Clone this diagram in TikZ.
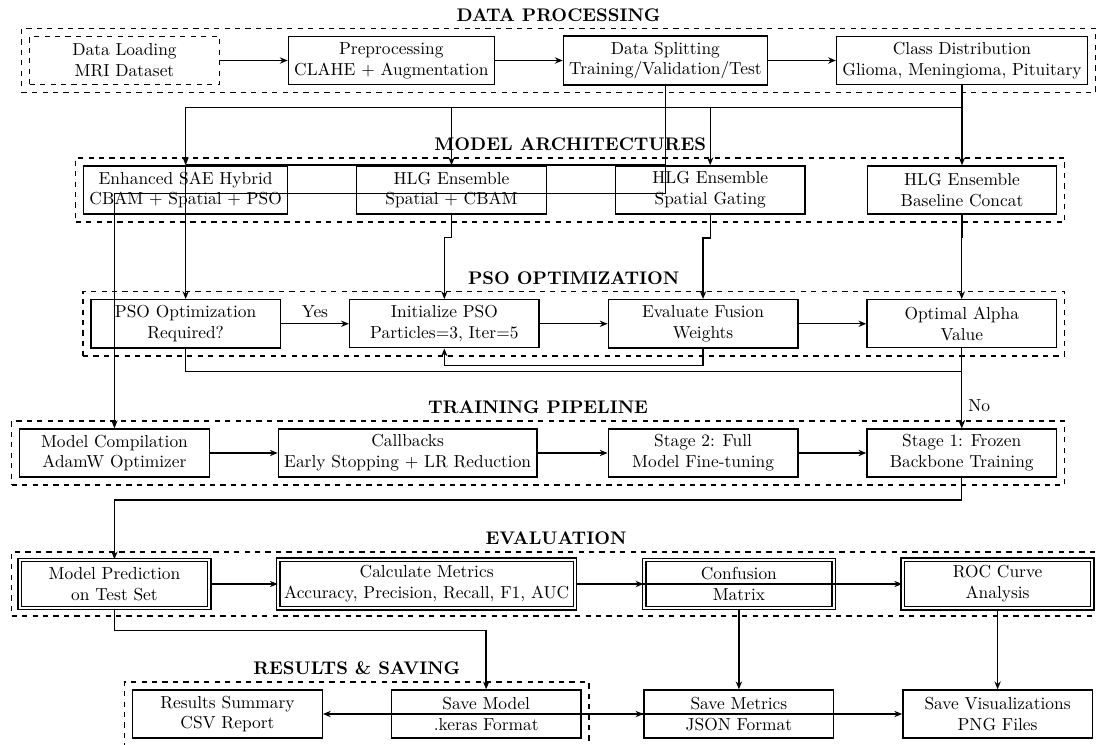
\documentclass[tikz,border=0pt]{standalone}
\usepackage{tikz}
\usetikzlibrary{arrows.meta,positioning,fit}
\tikzset{
  procbox/.style={rectangle, draw, thick, align=center,
                  minimum width=3.83cm, minimum height=0.97cm},
  evalbox/.style={procbox, double, double distance=1.2pt},
  grpbox/.style={rectangle, draw, thick, dashed, inner sep=4.2pt},
  grptitle/.style={font=\fontsize{10.5}{13}\selectfont\bfseries},
  arr/.style={-{Stealth[length=4.5pt, width=3.6pt]}, thick},
  lnk/.style={thick},
}

\begin{document}
\begin{tikzpicture}[x=0.575pt, y=-0.575pt, node distance=1.37cm]
    \useasboundingbox (0,0) rectangle (1096,745);
    % data processing
    \node[procbox, dashed, anchor=west] (load) at (29,60.5) {Data Loading\\MRI Dataset};
    \node[procbox, right=of load] (prep) {Preprocessing\\CLAHE + Augmentation};
    \node[procbox, right=of prep] (split) {Data Splitting\\Training/Validation/Test};
    \node[procbox, right=of split] (cls) {Class Distribution\\Glioma, Meningioma, Pituitary};
    % model architectures
    \node[procbox, anchor=west] (sae) at (83,190) {Enhanced SAE Hybrid\\CBAM + Spatial + PSO};
    \node[procbox, right=of sae] (hlga) {HLG Ensemble\\Spatial + CBAM};
    \node[procbox, right=of hlga] (hlgb) {HLG Ensemble\\Spatial Gating};
    \node[procbox] (hlgc) at (cls |- hlga) {HLG Ensemble\\Baseline Concat};
    % pso optimization
    \node[procbox, below=48.4pt of sae] (req) {PSO Optimization\\Required?};
    \node[procbox, right=of req] (init) {Initialize PSO\\Particles=3, Iter=5};
    \node[procbox, right=of init] (fus) {Evaluate Fusion\\Weights};
    \node[procbox, right=of fus] (alpha) {Optimal Alpha\\Value};
    % training pipeline
    \node[procbox, anchor=west] (comp) at (19,453) {Model Compilation\\AdamW Optimizer};
    \node[procbox, right=of comp] (cb) {Callbacks\\Early Stopping + LR Reduction};
    \node[procbox] (st2) at (fus |- comp) {Stage 2: Full\\Model Fine-tuning};
    \node[procbox] (st1) at (alpha |- comp) {Stage 1: Frozen\\Backbone Training};
    % evaluation
    \node[evalbox, anchor=west] (pred) at (19,584) {Model Prediction\\on Test Set};
    \node[evalbox, right=of pred] (met) {Calculate Metrics\\Accuracy, Precision, Recall, F1, AUC};
    \node[evalbox, right=of met] (cm) {Confusion\\Matrix};
    \node[evalbox, right=of cm] (roc) {ROC Curve\\Analysis};
    % results and saving
    \node[procbox, anchor=west] (sum) at (132,714) {Results Summary\\CSV Report};
    \node[procbox, right=of sum] (smod) {Save Model\\.keras Format};
    \node[procbox] (smet) at (cm |- sum) {Save Metrics\\JSON Format};
    \node[procbox] (svis) at (roc |- sum) {Save Visualizations\\PNG Files};

    % groups and titles
    \node[grpbox, fit=(load)(cls)] (gdp) {};
    \node[grpbox, fit=(sae)(hlgc)] (gma) {};
    \node[grpbox, fit=(req)(alpha)] (gpso) {};
    \node[grpbox, fit=(comp)(st1)] (gtr) {};
    \node[grpbox, fit=(pred)(roc)] (gev) {};
    \node[grpbox, fit=(sum)(smod)] (gres) {};
    \node[grptitle, above=0pt of gdp] (tdp) {DATA PROCESSING};
    \node[grptitle, above=0pt of gma] (tma) {MODEL ARCHITECTURES};
    \node[grptitle, above=0pt of gpso] (tpso) {PSO OPTIMIZATION};
    \node[grptitle, above=0pt of gtr] (ttr) {TRAINING PIPELINE};
    \node[grptitle, above=0pt of gev] (tev) {EVALUATION};
    \node[grptitle, above=0pt of gres] (tres) {RESULTS \& SAVING};

    % data processing flow
    \draw[arr] (load) -- (prep);
    \draw[arr] (prep) -- (split);
    \draw[arr] (split) -- (cls);
    \foreach \m in {sae,hlga,hlgb,hlgc}
      \draw[arr] (cls.south) -- ++(0,22) -| (\m.north);
    \draw[lnk] (split.south) |- (sae.north);
    \draw[arr] (split.south) -- ++(0,108) -| (comp.north);
    % architectures to pso
    \draw[arr] (sae.north) -- (req.north);
    \draw[arr] (hlga.south) -- ++(0,23) -| (init.north);
    \draw[arr] (hlgb.south) -- ++(0,23) -| (fus.north);
    \draw[arr] (hlgc.south) -- ++(0,23) -| (alpha.north);
    % pso loop
    \draw[arr] (req) -- node[above] {Yes} (init);
    \draw[arr] (init) -- (fus);
    \draw[arr] (fus) -- (alpha);
    \draw[arr] (fus.south) -- ++(0,17) -| (init.south);
    \draw[arr] (req.south) -- ++(0,23) -| node[pos=0.8, right] {No} (st1.north);
    \draw[arr] (alpha) -- (st1);
    % training
    \draw[arr] (comp) -- (cb);
    \draw[arr] (cb) -- (st2);
    \draw[arr] (st2) -- (st1);
    \draw[arr] (st1.south) -- ++(0,22) -| (pred.north);
    % evaluation
    \draw[arr] (pred) -- (met);
    \draw[arr] (met) -- (cm);
    \draw[arr] (met) -- (roc);
    \draw[arr] (pred.south) -- ++(0,22) -| (smod.north);
    \draw[arr] (cm) -- (smet);
    \draw[arr] (roc) -- (svis);
    % saving
    \draw[arr] (smet) -- (sum);
    \draw[arr] (smod) -- (smet);
    \draw[arr] (smod) -- (svis);
\end{tikzpicture}
\end{document}
